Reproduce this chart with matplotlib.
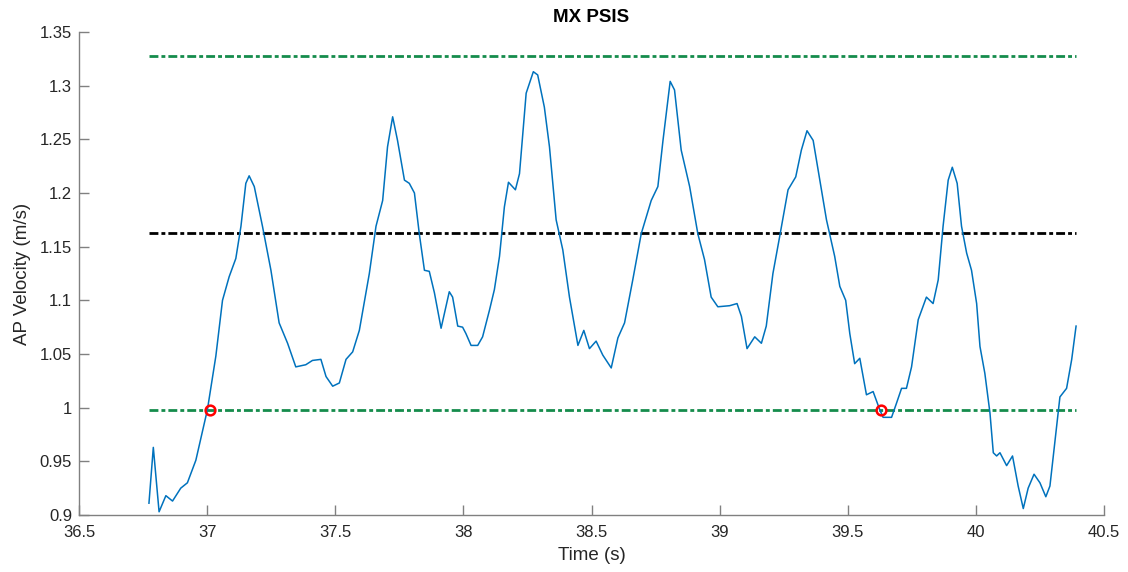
import matplotlib.pyplot as plt
import numpy as np

# trace of the AP velocity signal
time_s = [36.773, 36.790, 36.8125, 36.839, 36.865, 36.897, 36.923, 36.956, 37.001, 37.034,
          37.060, 37.086, 37.112, 37.132, 37.151, 37.164, 37.184, 37.216, 37.249, 37.281,
          37.314, 37.346, 37.385, 37.411, 37.444, 37.464, 37.490, 37.516, 37.542, 37.568,
          37.594, 37.633, 37.659, 37.685, 37.704, 37.724, 37.743, 37.770, 37.789, 37.809,
          37.828, 37.848, 37.867, 37.887, 37.913, 37.945, 37.958, 37.978, 37.997, 38.010,
          38.030, 38.056, 38.075, 38.102, 38.121, 38.141, 38.160, 38.176, 38.203, 38.219,
          38.245, 38.273, 38.290, 38.316, 38.336, 38.362, 38.388, 38.414, 38.447, 38.470,
          38.492, 38.518, 38.544, 38.577, 38.603, 38.629, 38.661, 38.694, 38.733, 38.759,
          38.779, 38.807, 38.824, 38.850, 38.883, 38.915, 38.941, 38.967, 38.993, 39.039,
          39.068, 39.085, 39.107, 39.137, 39.163, 39.182, 39.208, 39.234, 39.267, 39.297,
          39.319, 39.341, 39.365, 39.391, 39.417, 39.449, 39.469, 39.492, 39.508, 39.527,
          39.547, 39.573, 39.599, 39.625, 39.638, 39.671, 39.690, 39.710, 39.729, 39.749,
          39.775, 39.807, 39.833, 39.853, 39.872, 39.892, 39.908, 39.927, 39.944, 39.964,
          39.983, 40.003, 40.016, 40.035, 40.055, 40.068, 40.081, 40.094, 40.120, 40.143,
          40.165, 40.185, 40.204, 40.227, 40.250, 40.273, 40.289, 40.309, 40.328, 40.354,
          40.374, 40.391]
velocity = [0.911, 0.963, 0.903, 0.918, 0.913, 0.925, 0.930, 0.951, 0.998, 1.048,
            1.100, 1.122, 1.139, 1.169, 1.209, 1.216, 1.206, 1.169, 1.128, 1.079,
            1.060, 1.038, 1.040, 1.044, 1.045, 1.029, 1.020, 1.023, 1.045, 1.052,
            1.072, 1.125, 1.169, 1.193, 1.243, 1.271, 1.249, 1.212, 1.209, 1.200,
            1.162, 1.128, 1.127, 1.107, 1.074, 1.108, 1.103, 1.076, 1.075, 1.069,
            1.058, 1.058, 1.066, 1.091, 1.110, 1.141, 1.187, 1.210, 1.203, 1.218,
            1.293, 1.313, 1.310, 1.280, 1.243, 1.175, 1.147, 1.103, 1.058, 1.072,
            1.055, 1.062, 1.049, 1.037, 1.065, 1.079, 1.119, 1.162, 1.193, 1.206,
            1.249, 1.304, 1.296, 1.240, 1.206, 1.162, 1.138, 1.103, 1.094, 1.095,
            1.097, 1.085, 1.055, 1.066, 1.060, 1.076, 1.125, 1.159, 1.203, 1.215,
            1.240, 1.258, 1.249, 1.212, 1.175, 1.141, 1.113, 1.100, 1.069, 1.041,
            1.046, 1.012, 1.015, 0.998, 0.991, 0.991, 1.004, 1.018, 1.018, 1.038,
            1.082, 1.103, 1.097, 1.119, 1.169, 1.212, 1.224, 1.209, 1.169, 1.144,
            1.128, 1.097, 1.057, 1.032, 0.995, 0.958, 0.955, 0.958, 0.946, 0.955,
            0.927, 0.906, 0.925, 0.938, 0.930, 0.917, 0.927, 0.970, 1.010, 1.018,
            1.045, 1.076]

upper_limit = 1.328
mean_level = 1.163
lower_limit = 0.998
cross_t = [37.01, 39.63]
cross_v = [0.998, 0.998]

xticks = [36.5, 37, 37.5, 38, 38.5, 39, 39.5, 40, 40.5]
xticklabels = ['36.5', '37', '37.5', '38', '38.5', '39', '39.5', '40', '40.5']
yticks = [0.9, 0.95, 1.0, 1.05, 1.1, 1.15, 1.2, 1.25, 1.3, 1.35]
yticklabels = ['0.9', '0.95', '1', '1.05', '1.1', '1.15', '1.2', '1.25', '1.3', '1.35']

plt.rcParams.update({
    'font.family': ['Liberation Sans', 'DejaVu Sans'],
    'font.size': 11.5,
})

text_grey = '#262626'
axis_grey = '#808080'
green = '#158c4c'

fig = plt.figure(figsize=(11.28, 5.72), dpi=100)
ax = fig.add_axes([79 / 1128, 1 - 515 / 572, 1025 / 1128, 483 / 572])

t0, t1 = time_s[0], time_s[-1]
dash = (0, (3.2, 1.1, 1.4, 1.1))
ax.plot([t0, t1], [upper_limit, upper_limit], color=green, lw=2, linestyle=dash)
ax.plot([t0, t1], [mean_level, mean_level], color='black', lw=2, linestyle=dash)
ax.plot([t0, t1], [lower_limit, lower_limit], color=green, lw=2, linestyle=dash)
ax.plot(time_s, velocity, color='#0072BD', lw=1.1)
ax.plot(cross_t, cross_v, 'o', ms=7, mfc='none', mec='#FF0000', mew=1.8)

ax.set_xlim(36.5, 40.5)
ax.set_ylim(0.9, 1.35)
ax.set_xticks(xticks)
ax.set_xticklabels(xticklabels)
ax.set_yticks(yticks)
ax.set_yticklabels(yticklabels)

for side in ['top', 'right']:
    ax.spines[side].set_visible(False)
for side in ['left', 'bottom']:
    ax.spines[side].set_color(axis_grey)
    ax.spines[side].set_linewidth(1.0)
ax.tick_params(direction='in', length=7.5, width=1.0, color=axis_grey,
               labelcolor=text_grey, labelsize=12)
ax.tick_params(axis='x', pad=7.5)
ax.tick_params(axis='y', pad=5)

ax.set_xlabel('Time (s)', fontsize=13.5, color=text_grey, labelpad=5)
ax.set_ylabel('AP Velocity (m/s)', fontsize=13.5, color=text_grey, labelpad=6)
ax.set_title('MX PSIS', fontsize=13.5, fontweight='bold', color='black', pad=7)

plt.savefig('out.png', dpi=100)
